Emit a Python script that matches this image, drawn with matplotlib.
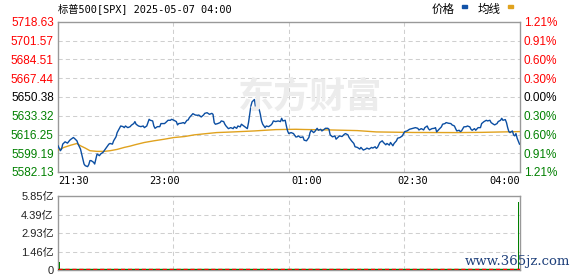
import matplotlib
matplotlib.use("Agg")
import matplotlib.pyplot as plt

# ---------------- data ----------------
title_text = "标普500[SPX] 2025-05-07 04:00"
prev_close = 5650.38

price_minutes = [0,2,3,4,6,8,10,11,13,14,16,17,19,20,21,22,23,25,26,27,28,30,31,32,33,35,36,38,39,41,43,44,46,47,49,50,52,53,55,56,57,59,61,62,64,65,
    66,68,70,72,73,75,77,78,80,81,82,84,86,87,90,91,93,95,96,98,100,101,102,104,106,107,109,110,111,113,114,116,118,119,121,123,124,126,128,130,131,132,133,
    135,137,138,140,141,142,144,146,148,149,151,152,154,155,157,159,160,161,162,163,164,166,167,168,170,171,172,173,175,176,178,180,181,182,184,186,188,189,190,192,193,194,195,197,199,
    201,202,203,205,207,208,210,212,213,214,216,217,219,220,222,223,225,226,228,229,230,232,234,235,237,238,240,242,243,245,246,248,250,251,253,255,256,258,260,261,263,265,266,268,
    269,270,272,274,275,277,278,280,281,283,284,286,287,289,291,292,293,295,297,299,300,302,304,305,307,309,310,312,313,314,316,318,319,320,322,324,325,327,328,330,332,333,335,336,
    337,339,340,341,343,345,346,348,349,350,352,353,355,357,358,360,362,363,365,366,368,369,371,372,374,375,376,378,379,380,381,382,384,385,386,387,388,390]
price_values = [5606.0,5601.5,5603.0,5607.5,5609.6,5608.4,5611.1,5612.0,5613.5,5612.6,5610.5,5607.5,5603.0,5598.5,5594.0,5589.4,5587.9,5587.0,5588.8,5592.5,5592.5,5591.0,5589.4,5594.0,5598.5,5597.0,5598.5,5600.0,5601.5,5604.5,5607.5,5608.1,5607.5,5610.5,5614.1,5618.0,5621.9,5624.0,5623.4,5622.5,5624.0,5622.5,5623.4,5624.7,5626.2,5628.0,
    5625.6,5624.0,5623.4,5624.0,5622.5,5624.0,5630.1,5629.2,5628.6,5624.0,5621.9,5623.4,5623.4,5626.2,5626.2,5627.1,5629.2,5629.2,5630.1,5629.2,5628.0,5625.0,5626.2,5626.5,5627.1,5626.2,5629.2,5629.5,5631.6,5634.0,5635.2,5634.0,5633.7,5634.0,5632.2,5634.0,5635.5,5636.1,5634.6,5635.5,5634.6,5627.1,5625.6,
    5626.2,5627.1,5628.6,5628.0,5625.6,5624.0,5621.6,5622.5,5621.6,5623.2,5621.9,5624.0,5623.2,5625.6,5624.0,5622.5,5621.6,5627.1,5634.6,5642.1,5646.0,5648.1,5640.6,5639.1,5639.1,5634.6,5628.6,5625.6,5622.5,5624.0,5623.4,5624.9,5626.2,5628.6,5628.0,5628.6,5628.0,5631.0,5628.6,5629.2,5624.0,5619.5,5617.1,5618.0,5617.1,
    5614.0,5614.1,5615.0,5613.5,5614.1,5611.1,5610.5,5613.5,5618.0,5620.1,5618.0,5618.9,5621.9,5620.1,5621.0,5619.5,5621.0,5621.9,5621.9,5621.0,5615.9,5614.1,5615.0,5612.0,5614.1,5615.0,5614.4,5616.5,5617.1,5615.9,5613.5,5610.5,5608.1,5605.1,5604.5,5603.0,5604.5,5602.1,5603.0,5603.9,5603.0,5604.5,5603.9,5605.1,
    5603.6,5604.5,5609.0,5610.5,5609.0,5606.9,5608.1,5606.6,5609.0,5606.0,5608.1,5610.5,5612.9,5613.5,5615.0,5617.1,5618.9,5619.5,5621.0,5621.6,5621.9,5622.5,5621.9,5620.4,5621.6,5620.4,5622.5,5624.0,5621.6,5620.4,5621.6,5621.9,5622.5,5618.6,5621.0,5623.2,5625.6,5626.2,5627.1,5626.5,5626.2,5625.0,5624.0,5621.6,
    5619.5,5620.1,5618.9,5619.5,5623.2,5623.4,5624.0,5623.2,5621.0,5620.1,5621.6,5620.1,5622.5,5622.5,5626.2,5628.0,5629.2,5628.6,5629.2,5627.1,5625.6,5625.0,5626.2,5628.0,5629.2,5631.0,5629.2,5629.8,5627.1,5622.5,5618.9,5618.0,5619.5,5615.9,5615.0,5617.1,5612.9,5607.5]

avg_minutes = [0,5,11,16,19,23,27,33,39,44,50,56,61,65,73,81,90,98,107,115,123,134,148,166,184,201,208,230,253,269,300,336,358,390]
avg_values = [5602.1,5604.5,5606.6,5608.1,5606.0,5603.9,5601.5,5600.9,5600.9,5601.5,5602.7,5604.5,5605.7,5606.9,5609.0,5610.5,5612.0,5613.5,5614.4,5615.9,5616.8,5618.0,5618.6,5619.5,5620.7,5621.0,5620.8,5620.4,5619.8,5618.6,5618.1,5618.0,5618.2,5618.9]

price_ticks = [5582.13,5599.19,5616.25,5633.32,5650.38,5667.44,5684.51,5701.57,5718.63]
price_tick_labels = ["5582.13","5599.19","5616.25","5633.32","5650.38","5667.44","5684.51","5701.57","5718.63"]
pct_tick_labels = ["1.21%","0.91%","0.60%","0.30%","0.00%","0.30%","0.60%","0.91%","1.21%"]

time_ticks = [0, 90, 210, 300, 390]
time_labels = ["21:30", "23:00", "01:00", "02:30", "04:00"]

vol_minutes = [1.5, 389.5]
vol_values = [0.66, 5.40]
vol_ticks = [0, 1.4625, 2.925, 4.3875, 5.85]
vol_tick_labels = ["0", "1.46亿", "2.93亿", "4.39亿", "5.85亿"]

# ---------------- styling ----------------
W, H = 578, 276
BLUE = "#0b4ea2"
ORANGE = "#e0a21e"
RED = "#ff0000"
GREEN = "#008000"
GRID = "#cfcfcf"
SPINE = "#999999"
CJK = ["Noto Sans CJK SC", "DejaVu Sans"]
NUM = ["Liberation Sans", "Noto Sans CJK SC"]
MONO = ["DejaVu Sans Mono", "Noto Sans CJK SC"]

fig = plt.figure(figsize=(W / 100, H / 100), dpi=100)

def rect(l, t, r, b):
    return [l / W, 1 - b / H, (r - l) / W, (b - t) / H]

def fx(x):
    return x / W

def fy(y):
    return 1 - y / H

ax = fig.add_axes(rect(58, 22, 519.5, 172))
vax = fig.add_axes(rect(58, 196, 519.5, 270))

grid_kw = dict(color=GRID, lw=0.75, ls=(0, (4, 3)), zorder=0)
for a in (ax, vax):
    a.set_xlim(0, 390)
    for s in a.spines.values():
        s.set_color(SPINE)
        s.set_linewidth(1.0)
    for q in (97.5, 195, 292.5):
        a.axvline(q, **grid_kw)

# main price panel
ax.set_ylim(price_ticks[0], price_ticks[-1])
for v in price_ticks[1:-1]:
    ax.axhline(v, **grid_kw)

# watermark
fig.text(fx(310), fy(97), "东方财富", family=CJK, fontsize=26, weight="bold",
         color="#ececec", ha="center", va="center", zorder=0)

ax.plot(avg_minutes, avg_values, color=ORANGE, lw=1.0, zorder=3)
ax.plot(price_minutes, price_values, color=BLUE, lw=1.0, zorder=4)

ax.set_yticks(price_ticks)
ax.set_yticklabels(price_tick_labels, family=NUM, fontsize=8.5)
ax.tick_params(axis="y", length=0, pad=3)
for lab, v in zip(ax.get_yticklabels(), price_ticks):
    lab.set_color(RED if v > prev_close + 0.01 else (GREEN if v < prev_close - 0.01 else "#000000"))

ax2 = ax.twinx()
ax2.set_ylim(price_ticks[0], price_ticks[-1])
ax2.set_yticks(price_ticks)
ax2.set_yticklabels(pct_tick_labels, family=NUM, fontsize=8.5)
ax2.tick_params(axis="y", length=0, pad=3)
for s in ax2.spines.values():
    s.set_visible(False)
for lab, v in zip(ax2.get_yticklabels(), price_ticks):
    lab.set_color(RED if v > prev_close + 0.01 else (GREEN if v < prev_close - 0.01 else "#000000"))

ax.set_xticks(time_ticks)
ax.set_xticklabels(time_labels, family=MONO, fontsize=7.4)
ax.tick_params(axis="x", length=0, pad=3)
xl = ax.get_xticklabels()
xl[0].set_ha("left")
xl[-1].set_ha("right")

# volume panel
vax.set_ylim(0, 5.85)
for v in vol_ticks[1:-1]:
    vax.axhline(v, **grid_kw)
vax.bar(vol_minutes, vol_values, width=0.9, color=GREEN, zorder=3)
vax.plot([0, 390], [0.04, 0.04], color=GREEN, lw=1.0, zorder=3)
vax.plot([0, 390], [0.04, 0.04], color=RED, lw=1.0, ls=(0, (3, 2)), zorder=4)
vax.set_xticks([])
vax.set_yticks(vol_ticks)
vax.set_yticklabels(vol_tick_labels, family=NUM, fontsize=8.0, color="#222222")
vax.tick_params(axis="y", length=0, pad=3)

# title and legend
fig.text(fx(58), fy(9), title_text, family=MONO, fontsize=7.4, color="#000000",
         ha="left", va="center")
fig.text(fx(432), fy(9), "价格", family=CJK, fontsize=8.3, color="#000000", ha="left", va="center")
fig.patches.append(plt.Rectangle((fx(462), fy(8)), 5 / W, 2.5 / H, transform=fig.transFigure,
                                 color="#1152a8", figure=fig))
fig.text(fx(478), fy(9), "均线", family=CJK, fontsize=8.3, color="#000000", ha="left", va="center")
fig.patches.append(plt.Rectangle((fx(508), fy(8)), 5 / W, 2.5 / H, transform=fig.transFigure,
                                 color=ORANGE, figure=fig))

fig.text(fx(570), fy(261), "www.365jz.com", family=["DejaVu Serif"], fontsize=9.5,
         color="#1d3f7a", ha="right", va="center", zorder=10)

fig.savefig("out.png", dpi=100)
